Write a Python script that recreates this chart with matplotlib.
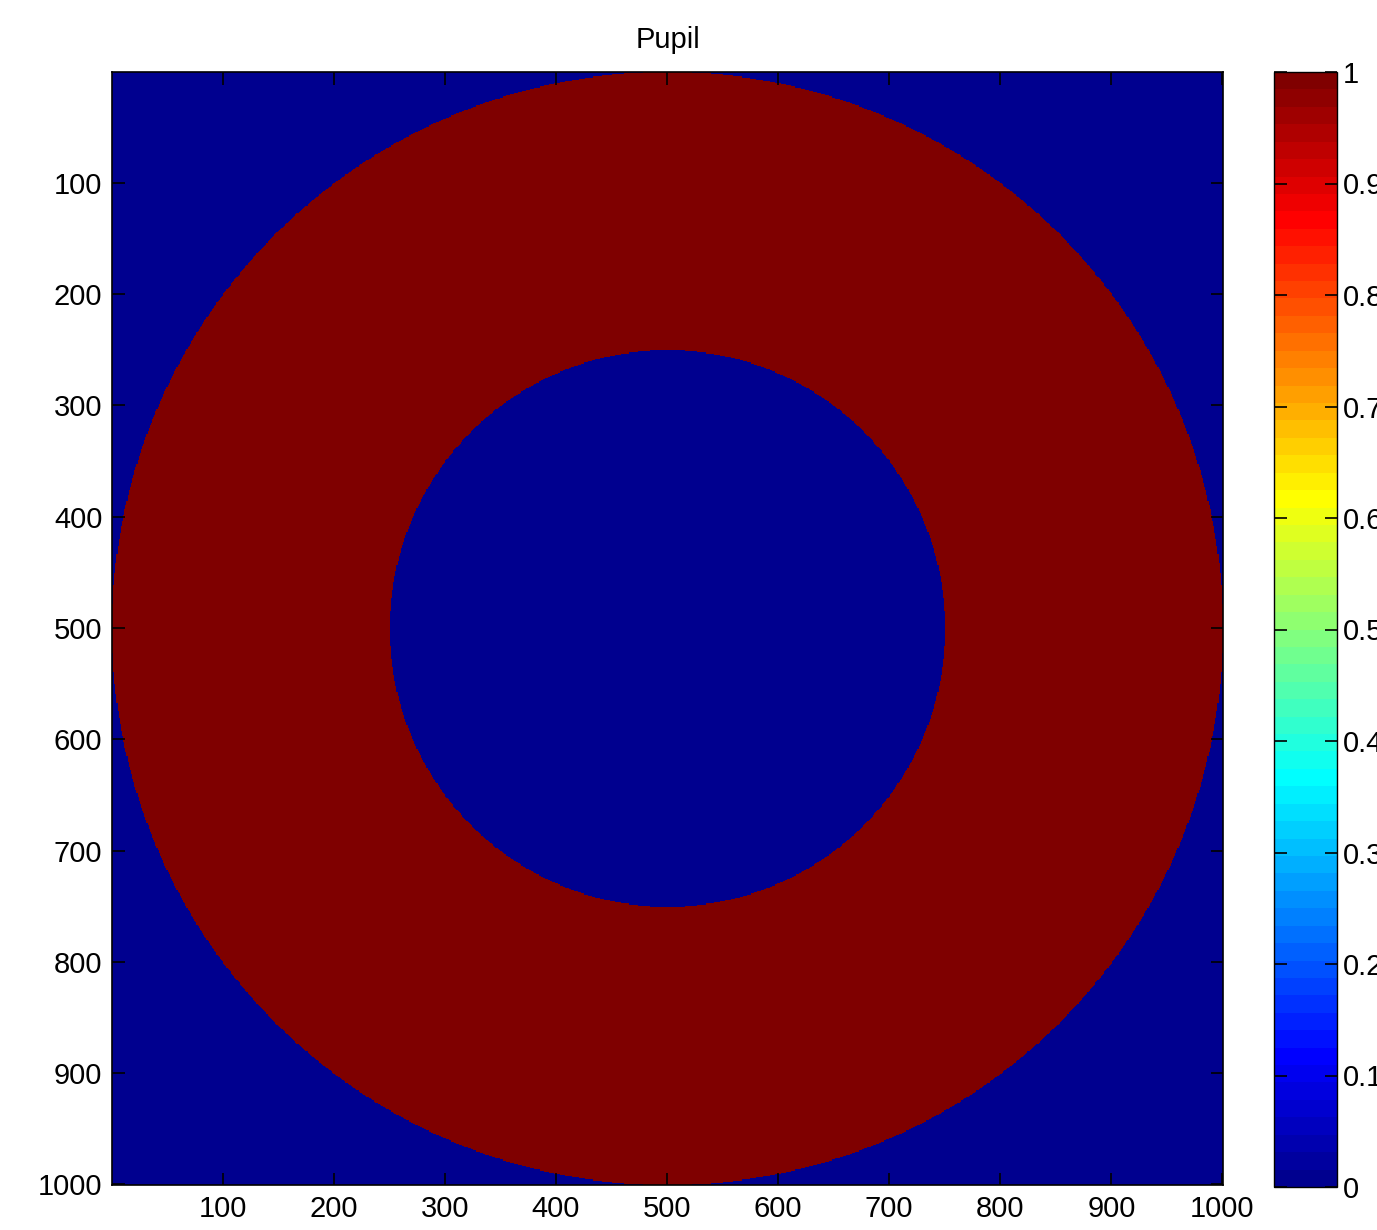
import numpy as np
import matplotlib
matplotlib.use("Agg")
import matplotlib.pyplot as plt
from matplotlib.colors import ListedColormap

plt.rcParams["font.family"] = ["Liberation Sans", "DejaVu Sans"]

# Annular pupil sampled on an N x N grid (radii in pixels)
N = 1000
R_OUTER = 500
R_INNER = 250
TICKS = [100, 200, 300, 400, 500, 600, 700, 800, 900, 1000]
CBAR_TICKS = [0, 0.1, 0.2, 0.3, 0.4, 0.5, 0.6, 0.7, 0.8, 0.9, 1]
CBAR_LABELS = ["0", "0.1", "0.2", "0.3", "0.4", "0.5", "0.6", "0.7", "0.8", "0.9", "1"]
TITLE = "Pupil"

W, H, DPI = 1377, 1230, 100
FS = 21


def jet64(m=64):
    # same construction as MATLAB's jet(m)
    n = int(np.ceil(m / 4))
    u = np.concatenate([np.arange(1, n + 1) / n, np.ones(n - 1), np.arange(n, 0, -1) / n])
    g = int(np.ceil(n / 2)) - (1 if m % 4 == 1 else 0) + np.arange(1, len(u) + 1)
    r = g + n
    b = g - n
    cmap = np.zeros((m, 3))
    for col, idx in ((0, r), (1, g), (2, b)):
        keep = (idx >= 1) & (idx <= m)
        cmap[idx[keep] - 1, col] = u[keep]
    return ListedColormap(cmap)


c = np.arange(1, N + 1) - (N + 1) / 2
xx, yy = np.meshgrid(c, c)
rr = np.hypot(xx, yy)
pupil = ((rr <= R_OUTER) & (rr >= R_INNER)).astype(float)

fig = plt.figure(figsize=(W / DPI, H / DPI), dpi=DPI)
ax = fig.add_axes([112 / W, (H - 1185) / H, 1111 / W, 1113 / H])
cax = fig.add_axes([1274 / W, (H - 1187) / H, 63 / W, 1115 / H])

im = ax.imshow(pupil, cmap=jet64(), vmin=0, vmax=1, interpolation="nearest",
               extent=(0.5, N + 0.5, N + 0.5, 0.5), aspect="auto")
ax.set_title(TITLE, fontsize=FS, pad=17)
ax.set_xticks(TICKS)
ax.set_yticks(TICKS)
ax.set_xticklabels([str(t) for t in TICKS])
ax.set_yticklabels([str(t) for t in TICKS])
ax.tick_params(direction="in", length=9, width=1.2, top=True, right=True,
               labelsize=FS, pad=7)
for s in ax.spines.values():
    s.set_linewidth(1.2)

cb = fig.colorbar(im, cax=cax, ticks=CBAR_TICKS)
cb.ax.set_yticklabels(CBAR_LABELS)
cb.ax.tick_params(direction="in", length=9, width=1.2, left=True, right=True,
                  labelsize=FS, pad=4)
cb.outline.set_linewidth(1.0)

fig.savefig("out.png", dpi=DPI)
